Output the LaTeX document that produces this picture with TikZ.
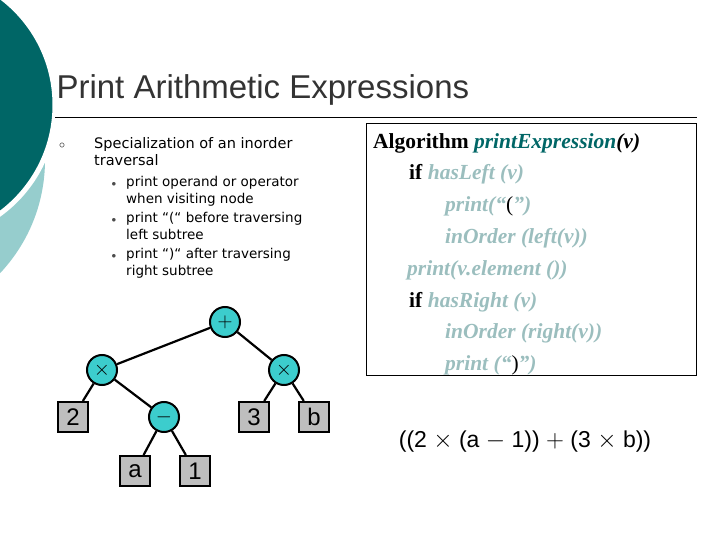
\documentclass[tikz,border=0pt]{standalone}
\usepackage{fontspec}
\setmainfont{Liberation Sans}
\newfontfamily\verd{DejaVu Sans}
\newfontfamily\tms{Liberation Serif}
\usetikzlibrary{positioning}
\definecolor{darkteal}{RGB}{0,102,102}
\definecolor{lightteal}{RGB}{150,205,205}
\definecolor{opcol}{RGB}{60,205,205}
\definecolor{leafcol}{RGB}{190,190,190}
\definecolor{algcol}{RGB}{155,190,190}

\tikzset{
  every op/.style={circle, draw, line width=2pt, fill=opcol, minimum size=30pt, inner sep=0pt, font=\fontsize{20}{20}\selectfont},
  every leaf/.style={rectangle, draw, line width=2pt, fill=leafcol, minimum size=30pt, inner sep=0pt, font=\fontsize{24}{24}\selectfont},
  edge/.style={line width=2.2pt},
  bullet text/.style={anchor=north west, align=left, font=\verd\fontsize{13.5}{17.5}\selectfont, inner sep=0pt}
}

\begin{document}
\begin{tikzpicture}[x=1pt, y=-1pt]
\useasboundingbox (0,0) rectangle (720,540);

% Background decoration
\fill[lightteal] (-120,160) circle (165);
\draw[white, line width=5pt, fill=darkteal] (-80,105) circle (135);

% Title
\node[anchor=west, font=\fontsize{33}{36}\selectfont, text=black!80] (title) at (53,90) {Print Arithmetic Expressions};
\draw[line width=1pt] (55,118) -- (697,118);

% Bullets
\node[font=\fontsize{12}{12}\selectfont, inner sep=0pt] (b0) at (62,146) {$\circ$};
\node[bullet text, font=\verd\fontsize{14.5}{17.5}\selectfont] (t0) at (94,137) {Specialization of an inorder\\traversal};
\foreach \txt [count=\i] in {{print operand or operator\\when visiting node},{print “(“ before traversing\\left subtree},{print “)“ after traversing\\right subtree}} {
  \node[bullet text] (t\i) at (126,176+36*\i-36) {\txt};
  \node[font=\fontsize{9}{9}\selectfont, inner sep=0pt, text=black!70] (b\i) at (114,184+36*\i-36) {$\bullet$};
}

% Tree nodes
\node[every op/.try] (plus) at (225,322) {$+$};
\node[every op/.try] (timesL) at (102,370) {$\times$};
\node[every op/.try] (timesR) at (284,370) {$\times$};
\node[every op/.try] (minus) at (164,417) {$-$};
\node[every leaf/.try] (two) at (73,417) {2};
\node[every leaf/.try] (three) at (254,417) {3};
\node[every leaf/.try] (b) at (314,417) {b};
\node[every leaf/.try] (a) at (135,471) {a};
\node[every leaf/.try] (one) at (195,471) {1};

% Tree edges
\draw[edge] (plus) -- (timesL);
\draw[edge] (plus) -- (timesR);
\draw[edge] (timesL) -- (two);
\draw[edge] (timesL) -- (minus);
\draw[edge] (minus) -- (a);
\draw[edge] (minus) -- (one);
\draw[edge] (timesR) -- (three);
\draw[edge] (timesR) -- (b);

% Algorithm box
\draw[line width=0.8pt] (366,123) rectangle (696,375);
\node[anchor=north west, font=\tms\fontsize{21.5}{31.8}\selectfont, align=left, inner sep=0pt] (alg) at (373,133) {%
  \textbf{Algorithm} \textcolor{darkteal}{\textbf{\textit{printExpression}}}\textbf{\textit{(v)}}\\
  \hspace*{36pt}\textbf{if} \textcolor{algcol}{\textbf{\textit{hasLeft (v)}}}\\
  \hspace*{72pt}\textcolor{algcol}{\textbf{\textit{print(“}}}(\textcolor{algcol}{\textbf{\textit{”)}}}\\
  \hspace*{72pt}\textcolor{algcol}{\textbf{\textit{inOrder (left(v))}}}\\
  \hspace*{34pt}\textcolor{algcol}{\textbf{\textit{print(v.element ())}}}\\
  \hspace*{36pt}\textbf{if} \textcolor{algcol}{\textbf{\textit{hasRight (v)}}}\\
  \hspace*{72pt}\textcolor{algcol}{\textbf{\textit{inOrder (right(v))}}}\\
  \hspace*{72pt}\textcolor{algcol}{\textbf{\textit{print (“}}})\textcolor{algcol}{\textbf{\textit{”)}}}};

% Expression
\node[font=\fontsize{23}{23}\selectfont] (expr) at (525,442) {((2 $\times$ (a $-$ 1)) $+$ (3 $\times$ b))};
\end{tikzpicture}
\end{document}
